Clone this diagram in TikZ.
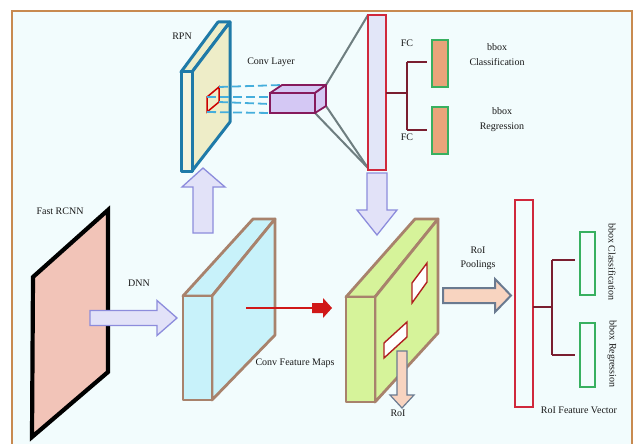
\documentclass[tikz,border=0pt]{standalone}
\usepackage{fontspec}
\setmainfont{Liberation Serif}
\definecolor{framec}{HTML}{C88A50}
\definecolor{bgc}{HTML}{F2FCFD}
\definecolor{pinkc}{HTML}{F2C4B8}
\definecolor{cyanc}{HTML}{C8F2FA}
\definecolor{brownc}{HTML}{A8826C}
\definecolor{greenf}{HTML}{D6F39A}
\definecolor{rpnf}{HTML}{EEEDC8}
\definecolor{rpnb}{HTML}{1F7AA8}
\definecolor{dashc}{HTML}{45AEDC}
\definecolor{convf}{HTML}{D4C8F4}
\definecolor{convb}{HTML}{861A5C}
\definecolor{grayl}{HTML}{6E7E80}
\definecolor{barb}{HTML}{D0283C}
\definecolor{barf}{HTML}{E2E6F8}
\definecolor{branchc}{HTML}{7A1E30}
\definecolor{boxg}{HTML}{38B060}
\definecolor{boxo}{HTML}{E8A47A}
\definecolor{lavf}{HTML}{E2E2F8}
\definecolor{lavb}{HTML}{8C8CDC}
\definecolor{peachf}{HTML}{F8D4C0}
\definecolor{peachb}{HTML}{6A7A90}
\definecolor{redc}{HTML}{D01818}
\definecolor{rroi}{HTML}{B02020}
\begin{document}
\begin{tikzpicture}[x=1pt,y=-1pt,
  lbl/.style={font=\fontsize{10}{12}\selectfont,inner sep=0pt,text=black!90},
  cube/.style={draw=brownc,line width=2.8pt,line join=round},
  lavarrow/.style={draw=lavb,fill=lavf,line width=1.3pt,line join=miter},
  peacharrow/.style={draw=peachb,fill=peachf,line width=1.5pt,line join=miter},
  fcbar/.style={draw=barb,line width=2.8pt},
  outbox/.style={draw=boxg,line width=2.8pt},
  branch/.style={draw=branchc,line width=1.5pt},
  dashl/.style={draw=dashc,line width=1.8pt,dash pattern=on 9pt off 4pt},
  grayline/.style={draw=grayl,line width=2pt}]
\useasboundingbox (0,0) rectangle (637,444);
% frame
\fill[bgc] (12,11) rectangle (632,444);
\draw[framec,line width=2pt] (12,444) -- (12,11) -- (632,11) -- (632,444);

% Fast RCNN panel
\draw[black,fill=pinkc,line width=4.2pt,line join=miter] (108,210) -- (33,277) -- (32,437) -- (108,372) -- cycle;
\node[lbl] (lfast) at (60,211) {Fast RCNN};

% DNN arrow
\draw[lavarrow] (90,310.5) -- (157,310.5) -- (157,300.5) -- (177,318) -- (157,335.5) -- (157,325.5) -- (90,325.5) -- cycle;
\node[lbl] (ldnn) at (139,283) {DNN};

% cyan conv feature maps
\draw[cube,fill=cyanc] (183,296) -- (253,219) -- (275,219) -- (212,296) -- cycle;
\draw[cube,fill=cyanc] (212,296) -- (275,219) -- (275,335) -- (212,400) -- cycle;
\draw[cube,fill=cyanc] (183,296) rectangle (212,400);
\node[lbl] (lcfm) at (295,363) {Conv Feature Maps};

% red arrow
\coordinate (ra) at (246,308);
\coordinate (rb) at (312,308);
\draw[redc,line width=2pt] (ra) -- (rb);
\fill[redc] (312,303) -- (323,303) -- (323,298) -- (332,308) -- (323,318) -- (323,313) -- (312,313) -- cycle;

% up arrow to RPN
\draw[lavarrow] (193,233) -- (193,187) -- (182,187) -- (203,168) -- (225,187) -- (213,187) -- (213,233) -- cycle;

% RPN panel
\draw[rpnb,fill=rpnf,line width=3pt,line join=round] (181,72) -- (218,22) -- (230,22) -- (192,72) -- cycle;
\draw[rpnb,fill=rpnf,line width=3pt,line join=round] (192,72) -- (230,22) -- (230,122) -- (192,171) -- cycle;
\draw[rpnb,fill=rpnf!60!white,line width=3pt,line join=round] (181,72) rectangle (192,171);
\node[lbl] (lrpn) at (182,36) {RPN};

% small red window on RPN
\coordinate (wtl) at (207,97);
\coordinate (wtr) at (219,87);
\coordinate (wbr) at (219,102);
\coordinate (wbl) at (207,112);
\draw[red!80!black,line width=1.5pt] (wtl) -- (wtr) -- (wbr) -- (wbl) -- cycle;

% conv layer box corners
\coordinate (ctl) at (270,93);
\coordinate (cbl) at (270,113);
\coordinate (cbk) at (282,85);
\coordinate (ctr) at (326,85);
\coordinate (cfr) at (315,113);
\coordinate (crb) at (326,106);
% dashed lines
\draw[dashl] (wtr) -- (cbk);
\draw[dashl] (wtl) -- (270,97);
\draw[dashl] (wbr) -- (270,104);
\draw[dashl] (wbl) -- (cbl);

% FC bar
\coordinate (fctl) at (368,15);
\coordinate (fcbl) at (368,168);
% gray lines
\draw[grayline] (ctr) -- (fctl);
\draw[grayline] (cfr) -- (fcbl);
\draw[grayline] (crb) -- (fcbl);

% conv layer box
\draw[convb,fill=convf,line width=1.8pt,line join=round] (270,93) -- (282,85) -- (326,85) -- (315,93) -- cycle;
\draw[convb,fill=convf,line width=1.8pt,line join=round] (315,93) -- (326,85) -- (326,106) -- (315,113) -- cycle;
\draw[convb,fill=convf,line width=1.8pt] (270,93) rectangle (315,113);
\node[lbl] (lconv) at (271,62) {Conv Layer};

\draw[fcbar,fill=barf] (368,15) rectangle (386,170);
\node[lbl] (lfc1) at (407,43) {FC};
\node[lbl] (lfc2) at (407,137) {FC};

% branch FC
\draw[branch] (386,93) -- (407,93);
\draw[branch] (407,62) -- (407,130);
\draw[branch] (407,62) -- (427,62);
\draw[branch] (407,130) -- (427,130);
\draw[outbox,fill=boxo] (432,40) rectangle (448,87);
\draw[outbox,fill=boxo] (432,107) rectangle (448,154);
\node[lbl] (lb1) at (497,47) {bbox};
\node[lbl] (lc1) at (497,62) {Classification};
\node[lbl] (lb2) at (502,111) {bbox};
\node[lbl] (lr2) at (502,127) {Regression};

% down arrow FC -> green
\draw[lavarrow] (367,173) -- (387,173) -- (387,210) -- (397,210) -- (377,235) -- (357,210) -- (367,210) -- cycle;

% green box
\draw[cube,fill=greenf] (346,297) -- (415,219) -- (438,219) -- (375,297) -- cycle;
\draw[cube,fill=greenf] (375,297) -- (438,219) -- (438,333) -- (375,402) -- cycle;
\draw[cube,fill=greenf] (346,297) rectangle (375,402);
\draw[rroi,fill=white,line width=1.4pt] (412,283) -- (427,263) -- (427,282) -- (412,303) -- cycle;
\draw[rroi,fill=white,line width=1.4pt] (384,343) -- (407,322) -- (407,337) -- (384,358) -- cycle;

% RoI down arrow
\draw[peacharrow,line width=1.2pt] (397,351) -- (407,351) -- (407,395) -- (414,395) -- (402,408) -- (390,395) -- (397,395) -- cycle;
\node[lbl] (lroi) at (398,413) {RoI};

% RoI pooling arrow
\draw[peacharrow,line width=2pt] (443,288) -- (495,288) -- (495,279) -- (511,295.5) -- (495,312) -- (495,303) -- (443,303) -- cycle;
\node[lbl] (lroip1) at (478,250) {RoI};
\node[lbl] (lroip2) at (478,265) {Poolings};

% RoI feature vector
\draw[fcbar,fill=bgc] (515,200) rectangle (533,407);
\node[lbl] (lrfv) at (579,410) {RoI Feature Vector};
\draw[branch] (533,307) -- (552,307);
\draw[branch] (552,260) -- (552,355);
\draw[branch] (552,260) -- (575,260);
\draw[branch] (552,355) -- (575,355);
\draw[outbox,fill=bgc] (580,232) rectangle (595,295);
\draw[outbox,fill=bgc] (580,323) rectangle (595,387);
\node[lbl,rotate=-90] (lcls) at (612,262) {bbox Classification};
\node[lbl,rotate=-90] (lreg) at (612,354) {bbox Regression};
\end{tikzpicture}
\end{document}
